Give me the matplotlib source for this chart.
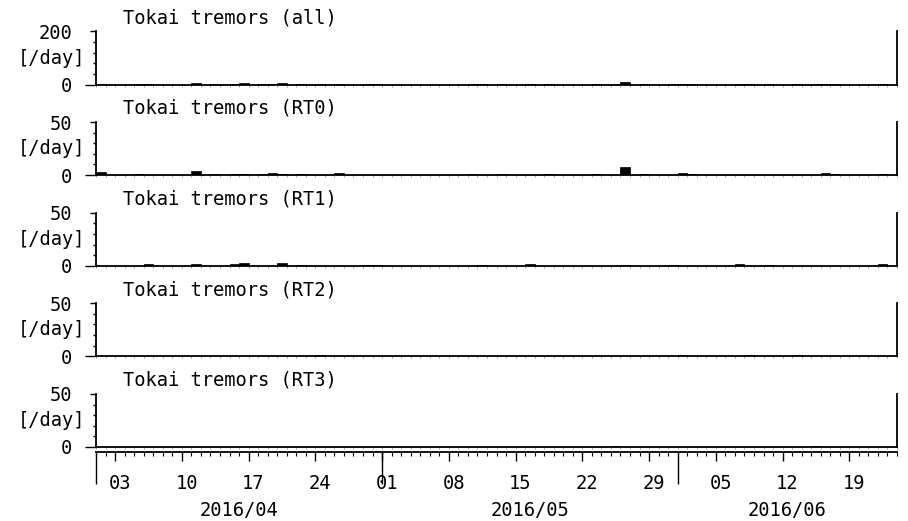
import matplotlib
matplotlib.use("Agg")
import matplotlib.pyplot as plt
import matplotlib.dates as mdates
from matplotlib.ticker import FixedLocator, MultipleLocator, NullFormatter, NullLocator
import pandas as pd

plt.rcParams["font.family"] = "DejaVu Sans Mono"
plt.rcParams["font.size"] = 13.5

START = pd.Timestamp("2016-04-01")
END = pd.Timestamp("2016-06-24")

titles = ["Tokai tremors (all)", "Tokai tremors (RT0)", "Tokai tremors (RT1)",
          "Tokai tremors (RT2)", "Tokai tremors (RT3)"]
ymax = [200, 50, 50, 50, 50]

all_dates = ["2016-04-01", "2016-04-05", "2016-04-06", "2016-04-11", "2016-04-13",
             "2016-04-15", "2016-04-16", "2016-04-18", "2016-04-19", "2016-04-20",
             "2016-04-22", "2016-04-24", "2016-04-26", "2016-04-29", "2016-04-30",
             "2016-05-10", "2016-05-11", "2016-05-13", "2016-05-16", "2016-05-18",
             "2016-05-23", "2016-05-25", "2016-05-26", "2016-05-28", "2016-05-31",
             "2016-06-01", "2016-06-02", "2016-06-07", "2016-06-08", "2016-06-10",
             "2016-06-13", "2016-06-15", "2016-06-16", "2016-06-17", "2016-06-22"]
all_counts = [3, 1, 2, 6, 1, 3, 4, 1, 2, 4, 2, 1, 2, 1, 1,
              1, 1, 1, 2, 1, 1, 1, 10, 1, 1, 3, 1, 2, 1, 1, 1, 1, 2, 1, 3]

rt0_dates = ["2016-04-01", "2016-04-05", "2016-04-11", "2016-04-13", "2016-04-15",
             "2016-04-16", "2016-04-18", "2016-04-19", "2016-04-20", "2016-04-22",
             "2016-04-26", "2016-05-10", "2016-05-13", "2016-05-18", "2016-05-23",
             "2016-05-26", "2016-05-28", "2016-06-01", "2016-06-02", "2016-06-16",
             "2016-06-17", "2016-06-22"]
rt0_counts = [3, 1, 4, 1, 1, 1, 1, 2, 1, 1, 2, 1, 1, 1, 1, 8, 1, 2, 1, 2, 1, 1]

rt1_dates = ["2016-04-06", "2016-04-11", "2016-04-15", "2016-04-16", "2016-04-20",
             "2016-04-22", "2016-04-29", "2016-04-30", "2016-05-11", "2016-05-16",
             "2016-05-26", "2016-05-31", "2016-06-07", "2016-06-10", "2016-06-22"]
rt1_counts = [2, 2, 2, 3, 3, 1, 1, 1, 1, 2, 1, 1, 2, 1, 2]

rt2_dates = ["2016-04-24", "2016-06-01", "2016-06-08", "2016-06-13"]
rt2_counts = [1, 1, 1, 1]

rt3_dates = ["2016-05-25", "2016-06-15"]
rt3_counts = [1, 1]

series = [(all_dates, all_counts), (rt0_dates, rt0_counts), (rt1_dates, rt1_counts),
          (rt2_dates, rt2_counts), (rt3_dates, rt3_counts)]

W, H = 908, 521
fig = plt.figure(figsize=(W / 100, H / 100), dpi=100)
left, right = 96, 897
lw = 1.3

for i, ((dates, counts), title, top) in enumerate(zip(series, titles, ymax)):
    y_top = 31.5 + i * 90.6
    ax = fig.add_axes([left / W, 1 - (y_top + 53) / H, (right - left) / W, 53 / H])
    ax.bar(pd.to_datetime(dates), counts, width=1.0, align="edge",
           color="black", edgecolor="black", linewidth=0.5)
    ax.set_xlim(START, END)
    ax.set_ylim(0, top)
    ax.spines["top"].set_visible(False)
    for s in ("left", "right", "bottom"):
        ax.spines[s].set_linewidth(lw)
    ax.yaxis.set_major_locator(FixedLocator([0, top]))
    ax.yaxis.set_minor_locator(MultipleLocator(top / 5))
    ax.tick_params(axis="y", which="major", length=4.3, width=1, pad=13)
    ax.tick_params(axis="y", which="minor", length=2.5, width=1)
    ax.yaxis.get_major_ticks()[0].tick1line.set_markersize(8)
    ax.xaxis.set_major_locator(NullLocator())
    ax.xaxis.set_minor_locator(mdates.DayLocator())
    ax.xaxis.set_minor_formatter(NullFormatter())
    ax.tick_params(axis="x", which="minor", length=1.5, width=0.5, color="0.5")
    ax.text(-0.0137, 0.5, "[/day]", transform=ax.transAxes, ha="right", va="center")
    ax.annotate(title, xy=(0.034, 1), xycoords="axes fraction", xytext=(0, 3),
                textcoords="offset points", ha="left", va="bottom")

# shared date axis below the panels
axd = fig.add_axes([left / W, 1 - 452 / H, (right - left) / W, 0.0001])
axd.set_xlim(START, END)
axd.set_yticks([])
for s in ("top", "left", "right"):
    axd.spines[s].set_visible(False)
axd.spines["bottom"].set_linewidth(lw)
axd.xaxis.set_major_locator(mdates.WeekdayLocator(byweekday=mdates.SU))
axd.xaxis.set_major_formatter(NullFormatter())
axd.xaxis.set_minor_locator(mdates.DayLocator())
axd.tick_params(which="major", length=6.5, width=1)
axd.tick_params(which="minor", length=3, width=0.8)

sec = axd.secondary_xaxis("bottom")
sec.xaxis.set_major_locator(mdates.MonthLocator())
sec.xaxis.set_major_formatter(NullFormatter())
sec.spines["bottom"].set_visible(False)
sec.tick_params(length=23, width=1)

for d in pd.date_range(START, END, freq="W-SUN"):
    axd.annotate(d.strftime("%d"), xy=(d + pd.Timedelta(hours=12), 0),
                 xycoords=("data", "axes fraction"), xytext=(0, -22.5),
                 textcoords="offset points", ha="center", va="center")

for m in pd.date_range(START, END, freq="MS"):
    m_end = min(m + pd.offsets.MonthBegin(1), END)
    mid = max(m, START) + (m_end - max(m, START)) / 2
    axd.annotate(m.strftime("%Y/%m"), xy=(mid, 0),
                 xycoords=("data", "axes fraction"), xytext=(0, -42),
                 textcoords="offset points", ha="center", va="center")

fig.savefig("out.png", dpi=100)
